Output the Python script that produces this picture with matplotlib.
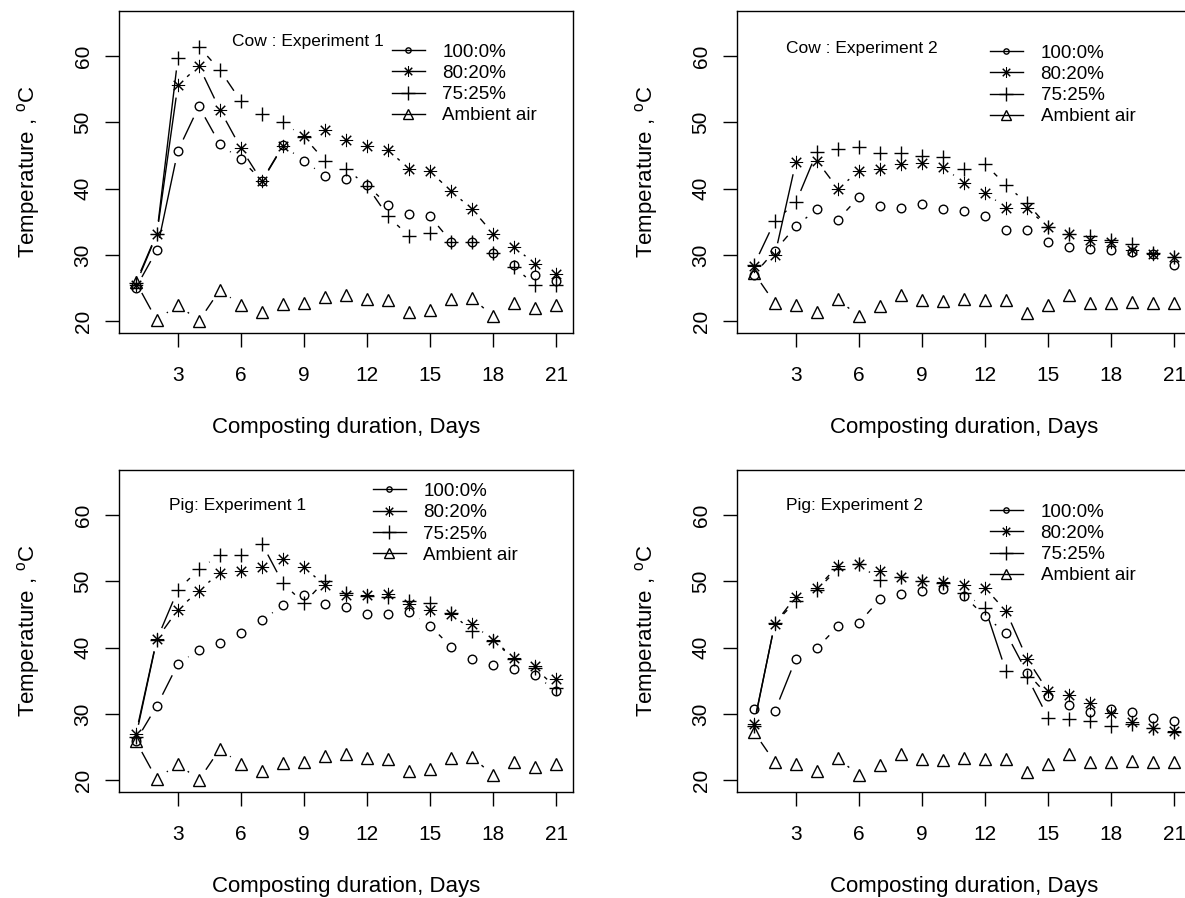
import matplotlib
matplotlib.use('Agg')
import matplotlib.pyplot as plt
from matplotlib.lines import Line2D
import numpy as np

plt.rcParams.update({
    'font.family': 'Liberation Sans',
    'mathtext.fontset': 'custom',
    'mathtext.rm': 'Liberation Sans',
    'mathtext.it': 'Liberation Sans:italic',
})

days = np.arange(1, 22)

# Cow : Experiment 1
cow1_100 = [25.0, 30.7, 45.7, 52.4, 46.7, 44.4, 41.2, 46.5, 44.2, 41.9, 41.4,
            40.5, 37.5, 36.1, 35.8, 32.0, 32.0, 30.2, 28.5, 26.9, 26.1]
cow1_80 = [25.5, 33.1, 55.6, 58.5, 51.9, 46.1, 41.1, 46.4, 47.9, 48.9, 47.4,
           46.4, 45.8, 43.0, 42.6, 39.6, 36.9, 33.2, 31.2, 28.6, 27.1]
cow1_75 = [25.8, 33.2, 59.7, 61.4, 57.9, 53.2, 51.2, 50.0, 47.8, 44.2, 43.0,
           40.4, 35.8, 32.8, 33.3, 31.9, 31.9, 30.2, 28.2, 25.4, 25.4]
# Cow : Experiment 2
cow2_100 = [27.0, 30.6, 34.3, 36.9, 35.3, 38.7, 37.4, 37.1, 37.7, 36.9, 36.6,
            35.8, 33.8, 33.8, 31.9, 31.2, 30.9, 30.7, 30.5, 30.1, 28.4]
cow2_80 = [28.3, 29.9, 44.0, 44.2, 40.0, 42.6, 42.9, 43.7, 43.9, 43.2, 40.9,
           39.4, 37.1, 37.0, 34.2, 33.1, 32.3, 32.0, 30.8, 30.1, 29.6]
cow2_75 = [28.4, 35.1, 37.9, 45.5, 45.9, 46.2, 45.4, 45.3, 44.9, 44.7, 42.9,
           43.7, 40.5, 37.8, 34.2, 33.1, 32.8, 32.2, 31.6, 30.3, 29.6]
# Pig: Experiment 1
pig1_100 = [25.9, 31.2, 37.5, 39.7, 40.7, 42.2, 44.1, 46.4, 48.0, 46.6, 46.1,
            45.1, 45.1, 45.4, 43.3, 40.1, 38.3, 37.3, 36.8, 35.8, 33.5]
pig1_80 = [26.9, 41.3, 45.7, 48.6, 51.3, 51.6, 52.1, 53.4, 52.1, 49.4, 48.0,
           47.9, 48.1, 46.6, 45.7, 45.0, 43.5, 41.2, 38.4, 37.2, 35.3]
pig1_75 = [26.5, 41.2, 48.7, 51.8, 54.0, 54.0, 55.7, 49.7, 46.7, 50.1, 48.3,
           47.8, 47.7, 47.1, 46.7, 45.2, 42.5, 41.0, 38.3, 36.9, 33.9]
# Pig: Experiment 2
pig2_100 = [30.8, 30.4, 38.3, 39.9, 43.2, 43.7, 47.3, 48.1, 48.6, 48.9, 47.8,
            44.7, 42.2, 36.2, 32.7, 31.4, 30.2, 30.7, 30.2, 29.4, 28.9]
pig2_80 = [28.4, 43.6, 47.7, 49.0, 52.3, 52.6, 51.6, 50.6, 50.0, 49.9, 49.4,
           49.0, 45.5, 38.3, 33.4, 32.8, 31.7, 30.1, 28.7, 27.9, 27.4]
pig2_75 = [28.2, 43.7, 47.0, 48.7, 51.9, 52.6, 50.2, 50.6, 50.0, 49.7, 48.2,
           46.0, 36.4, 35.6, 29.4, 29.2, 28.9, 28.2, 28.4, 27.9, 27.2]

# ambient air, experiment 1 and 2
ambient1 = [25.9, 20.1, 22.5, 20.0, 24.7, 22.4, 21.4, 22.6, 22.8, 23.7, 24.0,
            23.4, 23.2, 21.4, 21.7, 23.3, 23.5, 20.7, 22.7, 21.9, 22.4]
ambient2 = [27.3, 22.7, 22.5, 21.4, 23.3, 20.7, 22.2, 23.9, 23.2, 23.0, 23.4,
            23.2, 23.2, 21.2, 22.4, 23.9, 22.8, 22.8, 22.9, 22.8, 22.8]

series_labels = ['100:0%', '80:20%', '75:25%', 'Ambient air']
xticks = [3, 6, 9, 12, 15, 18, 21]
yticks = [20, 30, 40, 50, 60]

panels = [
    ('Cow : Experiment 1', [cow1_100, cow1_80, cow1_75, ambient1]),
    ('Cow : Experiment 2', [cow2_100, cow2_80, cow2_75, ambient2]),
    ('Pig: Experiment 1', [pig1_100, pig1_80, pig1_75, ambient1]),
    ('Pig: Experiment 2', [pig2_100, pig2_80, pig2_75, ambient2]),
]

# marker styles: circle, asterisk, plus, triangle (like R pch 1, 8, 3, 2)
mk = [dict(marker='o', ms=6.2, mew=1.0), dict(marker=(8, 2, 0), ms=9.5, mew=0.75),
      dict(marker='+', ms=9.8, mew=1.0), dict(marker='^', ms=9.0, mew=1.0)]
leg_ms = [3.8, 7.5, 9.5, 7.0]

W, H = 1185, 898
# axes boxes in pixels: left, top
boxes = [(119, 11), (737, 11), (119, 470), (737, 470)]
bw, bh = 454, 322
# legend anchor / note position (axes fraction)
leg_pos = [(0.601, 0.899), (0.557, 0.896), (0.559, 0.960), (0.557, 0.896)]
note_pos = [(0.248, 0.905), (0.108, 0.884), (0.111, 0.891), (0.109, 0.891)]

GAP = 12.5  # px gap around points (R type = "b")


def gap_line(ax, x, y):
    pts = ax.transData.transform(np.column_stack([x, y]))
    inv = ax.transData.inverted()
    for p, q in zip(pts[:-1], pts[1:]):
        d = q - p
        L = np.hypot(*d)
        if L <= 2 * GAP:
            continue
        u = d / L
        a, b = inv.transform([p + u * GAP, q - u * GAP])
        ax.plot([a[0], b[0]], [a[1], b[1]], color='black', lw=1.0,
                solid_capstyle='butt')


fig = plt.figure(figsize=(W / 100, H / 100), dpi=100)
for (title, data), (l, t), lp, npos in zip(panels, boxes, leg_pos, note_pos):
    ax = fig.add_axes([l / W, 1 - (t + bh) / H, bw / W, bh / H])
    ax.set_xlim(0.2, 21.8)
    ax.set_ylim(18.2, 66.8)
    for vals, m in zip(data, mk):
        gap_line(ax, days, vals)
        ax.plot(days, vals, ls='none', color='black', mfc='none', mec='black',
                **m)
    ax.set_xticks(xticks)
    ax.set_yticks(yticks)
    ax.tick_params(direction='out', length=10, width=1.0, labelsize=15,
                   colors='black')
    ax.tick_params(axis='x', pad=14)
    ax.tick_params(axis='y', pad=9, labelrotation=90)
    for lab in ax.get_yticklabels():
        lab.set_va('center')
    for s in ax.spines.values():
        s.set_linewidth(1.0)
    ax.set_xlabel('Composting duration, Days', fontsize=16)
    ax.set_ylabel('Temperature , $^{\\mathrm{o}}$C', fontsize=16)
    ax.xaxis.set_label_coords(0.5, -0.262)
    ax.yaxis.set_label_coords(-0.170, 0.5)
    ax.text(npos[0], npos[1], title, transform=ax.transAxes, fontsize=12.5,
            ha='left', va='center')
    handles = [Line2D([], [], color='black', lw=1.0, mfc='none', mec='black',
                      mew=m['mew'], marker=m['marker'], ms=s)
               for m, s in zip(mk, leg_ms)]
    ax.legend(handles, series_labels, loc='upper left', bbox_to_anchor=lp,
              frameon=False, fontsize=13.5, borderpad=0, borderaxespad=0,
              handlelength=1.76, handletextpad=0.94, labelspacing=0.22,
              numpoints=1)

fig.savefig('out.png', dpi=100)
